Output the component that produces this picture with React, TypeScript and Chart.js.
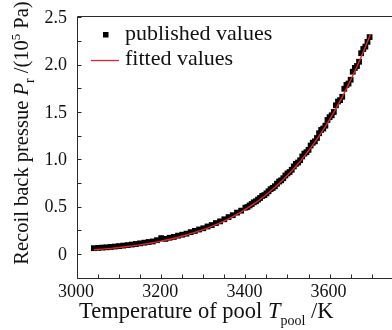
import React, { useEffect, useRef } from "react";
import { Chart, registerables } from "chart.js";

Chart.register(...registerables);

// Published recoil pressure samples (T in K, P in 1e5 Pa)
const publishedTemps = [
  3040, 3050, 3060, 3070, 3080, 3090, 3100, 3110, 3120, 3130, 3140, 3150, 3160,
  3170, 3180, 3190, 3200, 3210, 3220, 3230, 3240, 3250, 3260, 3270, 3280, 3290,
  3300, 3310, 3320, 3330, 3340, 3350, 3360, 3370, 3380, 3390,
  3400, 3405, 3410, 3415, 3420, 3425, 3430, 3435, 3440, 3445, 3450, 3455, 3460,
  3465, 3470, 3475, 3480, 3485, 3490, 3495, 3500, 3505, 3510, 3515, 3520, 3525,
  3530, 3535, 3540, 3545, 3550, 3555, 3560, 3565, 3570, 3575, 3580, 3585, 3590,
  3595, 3600, 3605, 3610, 3615, 3620, 3625, 3630, 3635, 3640, 3645, 3650, 3655,
  3660, 3665, 3670, 3675, 3680, 3685, 3690, 3695,
];
const publishedPressure = [
  0.062, 0.065, 0.068, 0.071, 0.075, 0.079, 0.084, 0.089, 0.094, 0.1, 0.106,
  0.113, 0.12, 0.127, 0.133, 0.146, 0.168, 0.16, 0.172, 0.181, 0.194, 0.204,
  0.215, 0.231, 0.244, 0.259, 0.272, 0.291, 0.306, 0.327, 0.345, 0.367, 0.39,
  0.41, 0.437, 0.458,
  0.489, 0.497, 0.513, 0.528, 0.546, 0.557, 0.575, 0.592, 0.613, 0.622, 0.641,
  0.663, 0.685, 0.698, 0.716, 0.742, 0.765, 0.778, 0.8, 0.829, 0.851, 0.866,
  0.89, 0.925, 0.952, 0.966, 0.99, 1.03, 1.06, 1.075, 1.1, 1.145, 1.175, 1.19,
  1.225, 1.275, 1.31, 1.325, 1.355, 1.415, 1.445, 1.465, 1.5, 1.57, 1.61, 1.625,
  1.66, 1.745, 1.785, 1.8, 1.84, 1.925, 1.965, 1.985, 2.03, 2.12, 2.165, 2.19,
  2.24, 2.29,
];

// Fitted curve
const fittedTemps = [
  3040, 3060, 3080, 3100, 3120, 3140, 3160, 3180, 3200, 3220, 3240, 3260, 3280,
  3300, 3320, 3340, 3360, 3380, 3400, 3420, 3440, 3460, 3480, 3500, 3520, 3540,
  3560, 3580, 3600, 3620, 3640, 3660, 3680, 3697,
];
const fittedPressure = [
  0.045, 0.052, 0.06, 0.069, 0.0795, 0.091, 0.1045, 0.1195, 0.136, 0.1555,
  0.177, 0.201, 0.228, 0.258, 0.292, 0.33, 0.372, 0.419, 0.471, 0.529, 0.594,
  0.665, 0.744, 0.831, 0.927, 1.033, 1.15, 1.278, 1.419, 1.574, 1.744, 1.929,
  2.133, 2.32,
];

const xTicks = [
  3000, 3050, 3100, 3150, 3200, 3250, 3300, 3350, 3400, 3450, 3500, 3550, 3600,
  3650, 3700,
];
const xLabelled = [3000, 3200, 3400, 3600];
const yTicks = [0, 0.25, 0.5, 0.75, 1, 1.25, 1.5, 1.75, 2, 2.25, 2.5];
const yLabelled = [0, 0.5, 1, 1.5, 2, 2.5];

const seriesNames = ["published values", "fitted values"];

const SERIF = "'Liberation Serif', 'Times New Roman', serif";
const RED = "#e3262b";
const AXIS = "#2a2a2a";

Chart.defaults.font.family = SERIF;

type Run = { text: string; font: string; dy?: number };

function runsWidth(ctx: CanvasRenderingContext2D, runs: Run[]) {
  let w = 0;
  for (const r of runs) {
    ctx.font = r.font;
    w += ctx.measureText(r.text).width;
  }
  return w;
}

function drawRuns(ctx: CanvasRenderingContext2D, runs: Run[], x: number, y: number) {
  let cx = x;
  ctx.textBaseline = "alphabetic";
  ctx.textAlign = "left";
  for (const r of runs) {
    ctx.font = r.font;
    ctx.fillText(r.text, cx, y + (r.dy || 0));
    cx += ctx.measureText(r.text).width;
  }
}

const yLabel = (n: number) => (n === 0 ? "0" : n.toFixed(1));

const framePlugin = {
  id: "frameAndTitles",
  afterDraw(chart: any) {
    const { ctx, chartArea } = chart;
    const xs = chart.scales.x;
    const ys = chart.scales.y;
    const L = Math.round(chartArea.left) + 0.5;
    const B = Math.round(chartArea.bottom) + 0.5;
    const T = Math.round(chartArea.top) + 0.5;
    ctx.save();
    ctx.strokeStyle = AXIS;
    ctx.lineWidth = 1;
    ctx.beginPath();
    ctx.moveTo(L, T);
    ctx.lineTo(L, B);
    ctx.lineTo(chart.width, B);
    ctx.moveTo(L, T);
    ctx.lineTo(chart.width, T);
    // inward tick marks
    for (const v of xTicks) {
      const px = Math.round(xs.getPixelForValue(v)) + 0.5;
      ctx.moveTo(px, B);
      ctx.lineTo(px, B - 4);
    }
    for (const v of yTicks) {
      const py = Math.round(ys.getPixelForValue(v)) + 0.5;
      ctx.moveTo(L, py);
      ctx.lineTo(L + 4, py);
    }
    ctx.stroke();

    // tick labels
    ctx.fillStyle = "#111";
    ctx.font = `18px ${SERIF}`;
    ctx.textAlign = "center";
    ctx.textBaseline = "alphabetic";
    for (const v of xLabelled) {
      ctx.fillText(String(v), xs.getPixelForValue(v) - 1, 297);
    }
    ctx.textAlign = "right";
    ctx.textBaseline = "middle";
    for (const v of yLabelled) {
      ctx.fillText(yLabel(v), chartArea.left - 10, ys.getPixelForValue(v) + 1);
    }

    // x axis title
    const xRuns: Run[] = [
      { text: "Temperature of pool ", font: `22.5px ${SERIF}` },
      { text: "T", font: `italic 22.5px ${SERIF}` },
      { text: "pool", font: `14px ${SERIF}`, dy: 7 },
      { text: " /K", font: `22.5px ${SERIF}` },
    ];
    drawRuns(ctx, xRuns, 79, 318);

    // y axis title
    const yRuns: Run[] = [
      { text: "Recoil back pressue ", font: `20.5px ${SERIF}` },
      { text: "P", font: `italic 20.5px ${SERIF}` },
      { text: "r", font: `14px ${SERIF}`, dy: 6 },
      { text: " /(10", font: `20.5px ${SERIF}` },
      { text: "5", font: `13px ${SERIF}`, dy: -8 },
      { text: " Pa)", font: `20.5px ${SERIF}` },
    ];
    const yw = runsWidth(ctx, yRuns);
    ctx.save();
    ctx.translate(28, 133);
    ctx.rotate(-Math.PI / 2);
    drawRuns(ctx, yRuns, -yw / 2, 0);
    ctx.restore();

    // legend
    ctx.fillStyle = "#000";
    ctx.fillRect(103, 32, 5.5, 5.5);
    ctx.strokeStyle = RED;
    ctx.lineWidth = 1.3;
    ctx.beginPath();
    ctx.moveTo(91, 60.5);
    ctx.lineTo(119, 60.5);
    ctx.stroke();
    ctx.fillStyle = "#111";
    drawRuns(ctx, [{ text: seriesNames[0], font: `22px ${SERIF}` }], 125, 40);
    drawRuns(ctx, [{ text: seriesNames[1], font: `22px ${SERIF}` }], 125, 65);
    ctx.restore();
  },
};

export default function App() {
  const ref = useRef<HTMLCanvasElement>(null);

  useEffect(() => {
    if (!ref.current) return;
    const chart = new Chart(ref.current, {
      type: "scatter",
      data: {
        datasets: [
          {
            label: seriesNames[0],
            data: publishedTemps.map((t, i) => ({ x: t, y: publishedPressure[i] })),
            pointStyle: "rect",
            pointRadius: 4.1,
            backgroundColor: "#000",
            borderWidth: 0,
            order: 1,
          },
          {
            label: seriesNames[1],
            type: "line",
            data: fittedTemps.map((t, i) => ({ x: t, y: fittedPressure[i] })),
            showLine: true,
            pointRadius: 0,
            borderColor: RED,
            borderWidth: 1.4,
            cubicInterpolationMode: "monotone",
            fill: false,
            order: 0,
          } as any,
        ],
      },
      options: {
        responsive: false,
        devicePixelRatio: 1,
        animation: false,
        events: [],
        layout: { padding: { top: 16, left: 0, right: 0, bottom: 0 } },
        plugins: { legend: { display: false }, tooltip: { enabled: false } },
        scales: {
          x: {
            type: "linear",
            min: 3000,
            max: 3738.5,
            grid: { display: false, drawTicks: false },
            border: { display: false },
            afterFit(scale: any) {
              scale.height = 52;
            },
            afterBuildTicks(scale: any) {
              scale.ticks = xTicks.map((v) => ({ value: v }));
            },
            ticks: { display: false },
          },
          y: {
            type: "linear",
            min: -0.253,
            max: 2.513,
            grid: { display: false, drawTicks: false },
            border: { display: false },
            afterFit(scale: any) {
              scale.width = 77;
            },
            afterBuildTicks(scale: any) {
              scale.ticks = yTicks.map((v) => ({ value: v }));
            },
            ticks: { display: false },
          },
        },
      },
      plugins: [framePlugin],
    });
    return () => chart.destroy();
  }, []);

  return (
    <div style={{ position: "fixed", left: 0, top: 0, width: 392, height: 330, background: "#fff" }}>
      <canvas ref={ref} width={392} height={330} style={{ width: 392, height: 330, display: "block" }} />
    </div>
  );
}
